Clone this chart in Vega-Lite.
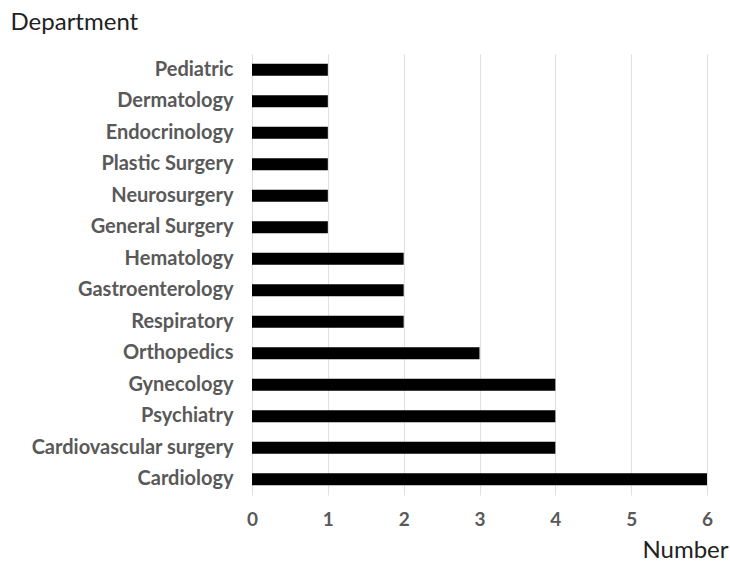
{
  "$schema": "https://vega.github.io/schema/vega-lite/v6.json",
  "width": 455,
  "height": 441,
  "autosize": "none",
  "padding": {"left": 252, "top": 54, "right": 23, "bottom": 66},
  "background": "white",
  "data": {
    "values": [
      {"department": "Pediatric", "number": 1},
      {"department": "Dermatology", "number": 1},
      {"department": "Endocrinology", "number": 1},
      {"department": "Plastic Surgery", "number": 1},
      {"department": "Neurosurgery", "number": 1},
      {"department": "General Surgery", "number": 1},
      {"department": "Hematology", "number": 2},
      {"department": "Gastroenterology", "number": 2},
      {"department": "Respiratory", "number": 2},
      {"department": "Orthopedics", "number": 3},
      {"department": "Gynecology", "number": 4},
      {"department": "Psychiatry", "number": 4},
      {"department": "Cardiovascular surgery", "number": 4},
      {"department": "Cardiology", "number": 6}
    ]
  },
  "mark": {"type": "bar", "color": "#000000", "height": 12},
  "encoding": {
    "y": {
      "field": "department",
      "type": "nominal",
      "sort": null,
      "scale": {"paddingInner": 0, "paddingOuter": 0},
      "axis": {
        "title": "Department",
        "titleAngle": 0,
        "titleX": -242,
        "titleY": -25,
        "titleAlign": "left",
        "titleBaseline": "alphabetic",
        "titleFont": "Lato",
        "titleFontSize": 24,
        "titleFontWeight": "normal",
        "titleColor": "#222222",
        "labelFont": "Lato",
        "labelFontSize": 20,
        "labelFontWeight": "bold",
        "labelColor": "#595959",
        "labelPadding": 19,
        "labelLimit": 300,
        "ticks": false,
        "domain": false,
        "grid": false
      }
    },
    "x": {
      "field": "number",
      "type": "quantitative",
      "scale": {"domain": [0, 6], "nice": false},
      "axis": {
        "title": "Number",
        "titleX": 476,
        "titleY": 62,
        "titleAlign": "right",
        "titleBaseline": "alphabetic",
        "titleFont": "Lato",
        "titleFontSize": 24,
        "titleFontWeight": "normal",
        "titleColor": "#222222",
        "values": [0, 1, 2, 3, 4, 5, 6],
        "labelFont": "Lato",
        "labelFontSize": 19,
        "labelFontWeight": "bold",
        "labelColor": "#595959",
        "labelPadding": 15,
        "labelFlush": false,
        "ticks": false,
        "domain": false,
        "grid": true,
        "gridColor": "#e0e0e0",
        "gridWidth": 1
      }
    }
  },
  "config": {"view": {"stroke": null}}
}
